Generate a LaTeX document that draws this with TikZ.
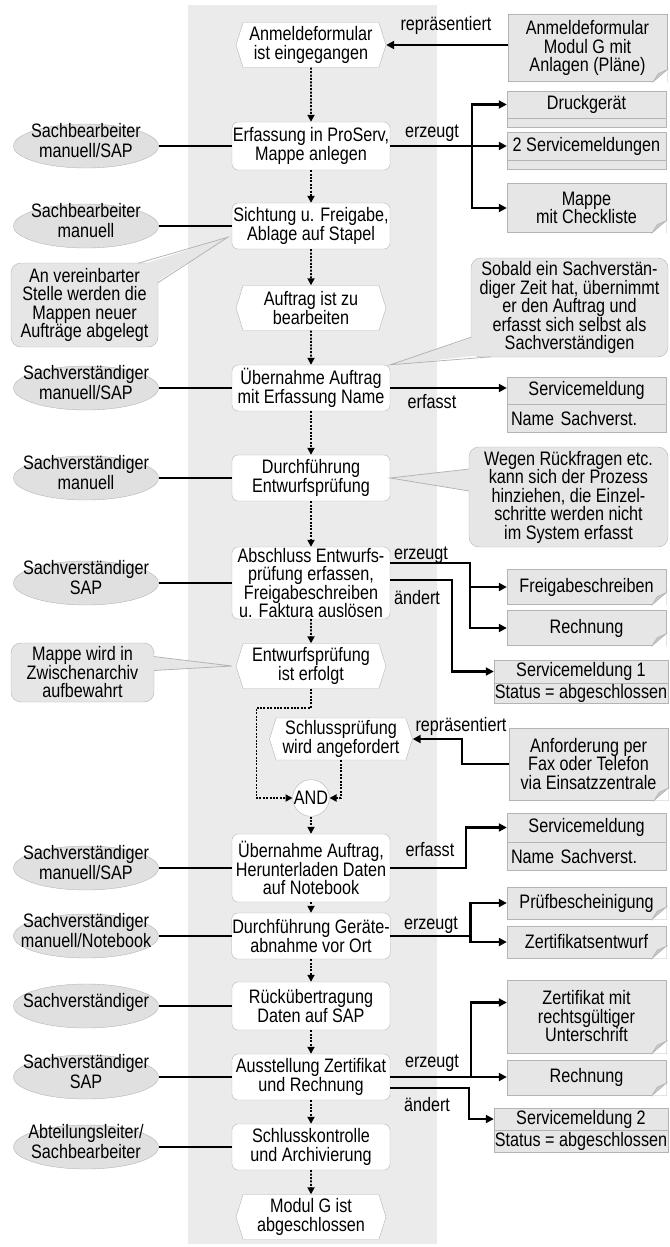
\documentclass[tikz,border=0pt]{standalone}
\usepackage{fontspec}
\setmainfont[FakeStretch=0.83]{Liberation Sans}
\usetikzlibrary{positioning,shapes.geometric,shapes.symbols,arrows.meta}

\definecolor{lanegray}{HTML}{EBEBEB}
\definecolor{boxgray}{HTML}{E6E6E6}
\definecolor{rolegray}{HTML}{E0E0E0}
\definecolor{edgegray}{HTML}{B4B4B4}
\definecolor{foldgray}{HTML}{C8C8C8}

\newcommand\diafont{\fontsize{19.5pt}{18.5pt}\selectfont}
\newcommand\rolelabel[1]{\raisebox{-0.25em}{\smash{\makebox[0pt]{\begin{tabular}{@{}c@{}}#1\end{tabular}}}}}

\tikzset{
  event/.style={signal, signal to=east and west, signal pointer angle=145,
    draw=edgegray, fill=white, minimum width=150, minimum height=45,
    align=center, inner sep=1},
  proc/.style={rectangle, rounded corners=6, draw=edgegray, fill=white,
    minimum width=158, minimum height=46, align=center, inner sep=0.5},
  andgate/.style={circle, draw=edgegray, fill=white, minimum size=36, inner sep=0},
  role/.style={ellipse, draw=edgegray, fill=rolegray, minimum width=145,
    minimum height=44, inner sep=0},
  obj/.style={rectangle, draw=edgegray, fill=boxgray, minimum width=159,
    align=center, inner sep=1},
  objsub/.style={obj, text width=151, inner xsep=4, align=left},
  doc/.style={obj},
  note/.style={rectangle, rounded corners=10, draw=edgegray, fill=boxgray,
    align=center, inner sep=1},
  tag/.style={inner sep=0},
  flow/.style={dash pattern=on 2pt off 1.4pt, line width=1.7,
    -{Triangle[length=7pt,width=7pt]}},
  dataarrow/.style={line width=2.2, -{Triangle[length=8pt,width=8pt]}},
  link/.style={line width=1.1}
}

\begin{document}
\begin{tikzpicture}[x=1pt, y=-1pt, font=\diafont]
  \useasboundingbox (0,0) rectangle (669,1247);
  %% Draw the lane
  \fill[lanegray] (188,5) rectangle (437,1244);
  %% Draw the events
  \node[event] (E1) at (311,45) {Anmeldeformular\\ist eingegangen};
  \node[event] (E2) at (311,308) {Auftrag ist zu\\bearbeiten};
  \node[event] (E3) at (311,666) {Entwurfsprüfung\\ist erfolgt};
  \node[event, minimum width=143, minimum height=42] (E4) at (341,739) {Schlussprüfung\\wird angefordert};
  \node[event] (E5) at (311,1217) {Modul G ist\\abgeschlossen};
  %% Draw the steps
  \node[proc, minimum height=48] (P1) at (311,146) {Erfassung in ProServ,\\Mappe anlegen};
  \node[proc] (P2) at (311,226) {Sichtung u. Freigabe,\\Ablage auf Stapel};
  \node[proc] (P3) at (311,388) {Übernahme Auftrag\\mit Erfassung Name};
  \node[proc] (P4) at (311,478) {Durchführung\\Entwurfsprüfung};
  \node[proc, minimum height=72] (P5) at (311,583) {Abschluss Entwurfs-\\prüfung erfassen,\\Freigabeschreiben\\u. Faktura auslösen};
  \node[andgate] (AND) at (311,798) {AND};
  \node[proc, minimum height=68] (P6) at (311,868) {Übernahme Auftrag,\\Herunterladen Daten\\auf Notebook};
  \node[proc] (P7) at (311,936) {Durchführung Geräte-\\abnahme vor Ort};
  \node[proc, minimum height=48] (P8) at (311,1006) {Rückübertragung\\Daten auf SAP};
  \node[proc] (P9) at (311,1077) {Ausstellung Zertifikat\\und Rechnung};
  \node[proc] (P10) at (311,1147) {Schlusskontrolle\\und Archivierung};
  %% Draw the roles
  \node[role] (R1) at (86,146) {\rolelabel{Sachbearbeiter\\manuell/SAP}};
  \node[role] (R2) at (86,226) {\rolelabel{Sachbearbeiter\\manuell}};
  \node[role] (R3) at (86,388) {\rolelabel{Sachverständiger\\manuell/SAP}};
  \node[role] (R4) at (86,478) {\rolelabel{Sachverständiger\\manuell}};
  \node[role] (R5) at (86,583) {\rolelabel{Sachverständiger\\SAP}};
  \node[role] (R6) at (86,868) {\rolelabel{Sachverständiger\\manuell/SAP}};
  \node[role] (R7) at (86,936) {\rolelabel{Sachverständiger\\manuell/Notebook}};
  \node[role] (R8) at (86,1006) {\rolelabel{Sachverständiger}};
  \node[role] (R9) at (86,1077) {\rolelabel{Sachverständiger\\SAP}};
  \node[role] (R10) at (86,1147) {\rolelabel{Abteilungsleiter/\\Sachbearbeiter}};
  %% Draw the objects
  \node[doc, minimum height=67] (O1) at (587.5,48) {Anmeldeformular\\Modul G mit\\Anlagen (Pläne)};
  \node[obj, minimum height=27] (O2) at (586.5,104.5) {Druckgerät};
  \node[objsub, minimum height=9, below=0pt of O2] (O2s) {};
  \node[obj, minimum height=28] (O3) at (586.5,146) {2 Servicemeldungen};
  \node[objsub, minimum height=9, below=0pt of O3] (O3s) {};
  \node[doc, minimum height=49] (O4) at (586.5,208) {Mappe\\mit Checkliste};
  \node[obj, minimum height=27] (O5) at (586.5,390.5) {Servicemeldung};
  \node[objsub, minimum height=28, below=0pt of O5] (O5s) {Name Sachverst.};
  \node[doc, minimum height=35] (O6) at (586.5,587) {Freigabeschreiben};
  \node[doc, minimum height=35] (O7) at (586.5,628) {Rechnung};
  \node[obj, minimum width=174, minimum height=23] (O8) at (581,671.5) {Servicemeldung 1};
  \node[obj, minimum width=174, inner xsep=0.5, minimum height=20, below=0pt of O8] (O8s) {Status = abgeschlossen};
  \node[doc, minimum height=72] (O9) at (588.5,764) {Anforderung per\\Fax oder Telefon\\via Einsatzzentrale};
  \node[obj, minimum height=29] (O10) at (586.5,827.5) {Servicemeldung};
  \node[objsub, minimum height=28, below=0pt of O10] (O10s) {Name Sachverst.};
  \node[doc, minimum height=32] (O11) at (586.5,903) {Prüfbescheinigung};
  \node[doc, minimum height=32] (O12) at (586.5,942) {Zertifikatsentwurf};
  \node[doc, minimum height=73] (O13) at (586.5,1016.5) {Zertifikat mit\\rechtsgültiger\\Unterschrift};
  \node[doc, minimum height=35] (O14) at (586.5,1077.5) {Rechnung};
  \node[obj, minimum width=174, minimum height=22] (O15) at (581,1119) {Servicemeldung 2};
  \node[obj, minimum width=174, inner xsep=0.5, minimum height=22, below=0pt of O15] (O15s) {Status = abgeschlossen};
  \foreach \d in {O1,O4,O6,O7,O9,O11,O12,O13,O14} {
    \fill[white] ([xshift=-14pt,yshift=-0.5pt]\d.south east) -- ([xshift=0.5pt,yshift=-0.5pt]\d.south east) -- ([xshift=0.5pt,yshift=12pt]\d.south east) -- cycle;
    \filldraw[fill=foldgray, draw=edgegray, line width=0.6] ([xshift=-14pt]\d.south east) -- ([yshift=12pt]\d.south east) -- ([xshift=-9pt,yshift=8pt]\d.south east) -- cycle;
  }
  %% Draw the notes
  \node[note, minimum width=147, minimum height=84] (N1) at (84.5,305) {An vereinbarter\\Stelle werden die\\Mappen neuer\\Aufträge abgelegt};
  \node[note, minimum width=197, minimum height=99] (N2) at (569.5,307.5) {Sobald ein Sachverstän-\\diger Zeit hat, übernimmt\\er den Auftrag und\\erfasst sich selbst als\\Sachverständigen};
  \node[note, minimum width=199, minimum height=100] (N3) at (568.5,497) {Wegen Rückfragen etc.\\kann sich der Prozess\\hinziehen, die Einzel-\\schritte werden nicht\\im System erfasst};
  \node[note, minimum width=143, minimum height=59] (N4) at (82.5,672.5) {Mappe wird in\\Zwischenarchiv\\aufbewahrt};
  \fill[boxgray] ([xshift=-20pt,yshift=-3pt]N1.north east) -- ([xshift=-4pt,yshift=12]P2.south west) -- ([xshift=-3pt,yshift=-20pt]N1.north east) -- cycle;
  \draw[edgegray, line width=0.8] ([xshift=-20pt,yshift=-0.4pt]N1.north east) -- ([xshift=-4pt,yshift=12]P2.south west) -- ([xshift=-0.4pt,yshift=-20pt]N1.north east);
  \fill[boxgray] ([xshift=3pt,yshift=20pt]N2.south west) -- (P3.north east) -- ([xshift=20pt,yshift=3pt]N2.south west) -- cycle;
  \draw[edgegray, line width=0.8] ([xshift=0.4pt,yshift=20pt]N2.south west) -- (P3.north east) -- ([xshift=20pt,yshift=0.4pt]N2.south west);
  \fill[boxgray] ([xshift=3pt,yshift=28pt]N3.west) -- (P4.east) -- ([xshift=3pt,yshift=6pt]N3.west) -- cycle;
  \draw[edgegray, line width=0.8] ([xshift=0.4pt,yshift=28pt]N3.west) -- (P4.east) -- ([xshift=0.4pt,yshift=6pt]N3.west);
  \fill[boxgray] ([xshift=-3pt,yshift=16pt]N4.east) -- ([xshift=-4pt]E3.west) -- ([xshift=-3pt,yshift=2pt]N4.east) -- cycle;
  \draw[edgegray, line width=0.8] ([xshift=-0.4pt,yshift=16pt]N4.east) -- ([xshift=-4pt]E3.west) -- ([xshift=-0.4pt,yshift=2pt]N4.east);
  %% Draw the edge labels
  \node[tag] (L1) at (446,25) {repräsentiert};
  \node[tag] (L2) at (432,133) {erzeugt};
  \node[tag] (L3) at (432,402) {erfasst};
  \node[tag] (L4) at (421,555) {erzeugt};
  \node[tag] (L5) at (417,598) {ändert};
  \node[tag] (L6) at (461,726) {repräsentiert};
  \node[tag] (L7) at (430,850) {erfasst};
  \node[tag] (L8) at (431,925) {erzeugt};
  \node[tag] (L9) at (432,1063) {erzeugt};
  \node[tag] (L10) at (427,1105) {ändert};
  %% Draw the process flow
  \begin{scope}[every path/.style={flow}]
    \draw (E1) -- (P1);
    \draw (P1) -- (P2);
    \draw (P2) -- (E2);
    \draw (E2) -- (P3);
    \draw (P3) -- (P4);
    \draw (P4) -- (P5);
    \draw (P5) -- (E3);
    \draw (E3.south) -- ++(0,19) -| ([xshift=-36pt]AND.west) -- (AND.west);
    \draw (E4.south) |- (AND.east);
    \draw (AND) -- (P6);
    \draw (P6) -- (P7);
    \draw (P7) -- (P8);
    \draw (P8) -- (P9);
    \draw (P9) -- (P10);
    \draw (P10) -- (E5);
  \end{scope}
  %% Draw the roles' links
  \begin{scope}[every path/.style={link}]
    \draw (R1) -- (P1);
    \draw (R2) -- (P2);
    \draw (R3) -- (P3);
    \draw (R4) -- (P4);
    \draw (R5) -- (P5);
    \draw (R6) -- (P6);
    \draw (R7) -- (P7);
    \draw (R8) -- (P8);
    \draw (R9) -- (P9);
    \draw (R10) -- (P10);
  \end{scope}
  %% Draw the data edges
  \begin{scope}[every path/.style={dataarrow}]
    \draw (O1.west |- E1.east) -- (E1.east);
    \draw (P1.east) -- ++(82,0) |- (O2.west);
    \draw (P1.east) -- (P1.east -| O3.west);
    \draw (P1.east) -- ++(82,0) |- (O4.west);
    \draw (P3.east) -- (P3.east -| O5.west);
    \draw ([yshift=20pt]P5.east) -- ++(80,0) |- (O6.west);
    \draw ([yshift=20pt]P5.east) -- ++(80,0) |- (O7.west);
    \draw ([yshift=3pt]P5.east) -- ++(62,0) |- (O8.west);
    \draw (O9.west) -- ++(-47,0) |- (E4.east);
    \draw (P6.east) -- ++(76,0) |- (O10.west);
    \draw (P7.east) -- ++(80,0) |- (O11.west);
    \draw (P7.east) -- ++(80,0) |- (O12.west);
    \draw (P9.east) -- ++(81,0) |- ([yshift=14pt]O13.west);
    \draw (P9.east) -- (P9.east -| O14.west);
    \draw ([yshift=-11pt]P9.east) -- ++(79,0) |- (O15.west);
  \end{scope}
\end{tikzpicture}
\end{document}
